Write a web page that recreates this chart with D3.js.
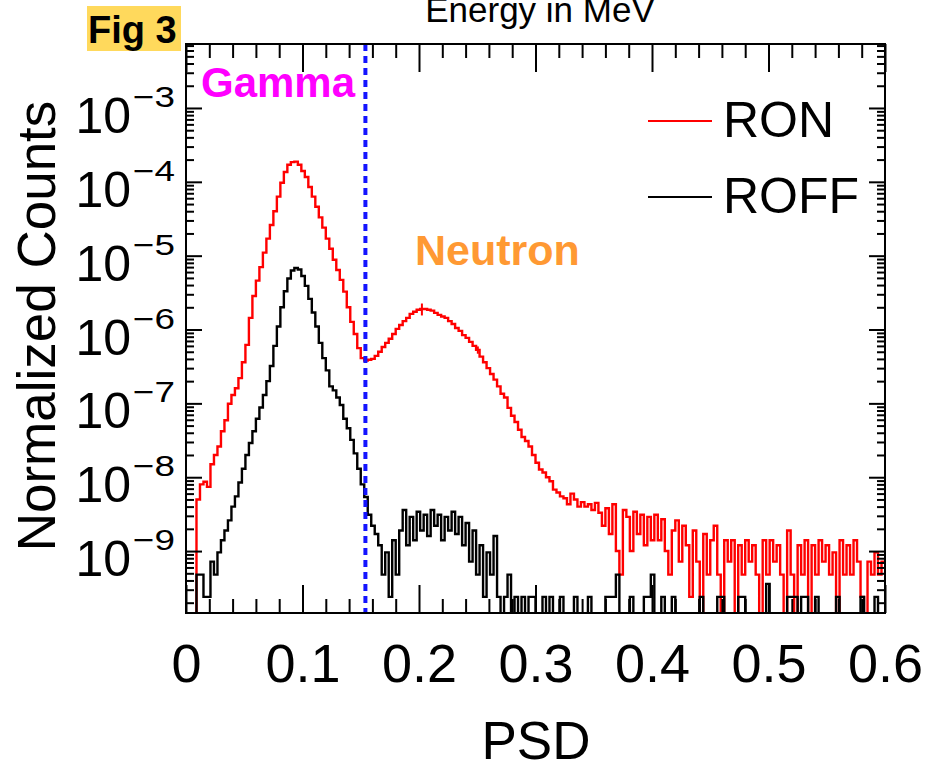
<!DOCTYPE html>
<html>
<head>
<meta charset="utf-8">
<script src="https://cdn.jsdelivr.net/npm/d3@7"></script>
<style>
  body { margin: 0; background: #fff; }
  svg { display: block; font-family: "Liberation Sans", Arial, Helvetica, sans-serif; }
</style>
</head>
<body>
<svg id="chart" width="925" height="771"></svg>
<script>
// Histogram binning along PSD
const binStart = 0;
const binWidth = 0.003;

// Normalized counts per bin, reactor ON
const ron = [
  0, 0, 0, 5.0e-9, 8.0e-9, 8.7e-9, 7.4e-9, 1.5e-8, 2.0e-8, 2.6e-8,
  4.2e-8, 5.9e-8, 9.9e-8, 1.3e-7, 1.6e-7, 2.2e-7, 3.6e-7, 6.2e-7, 1.44e-6, 2.84e-6,
  4.6e-6, 7.0e-6, 1.1e-5, 1.7e-5, 2.6e-5, 4.0e-5, 6.3e-5, 9.7e-5, 1.36e-4, 1.7e-4,
  1.85e-4, 1.88e-4, 1.7e-4, 1.4e-4, 1.16e-4, 8.5e-5, 6.3e-5, 4.6e-5, 3.3e-5, 2.4e-5,
  1.7e-5, 1.24e-5, 8.8e-6, 6.4e-6, 4.7e-6, 3.26e-6, 2.0e-6, 1.27e-6, 8.7e-7, 5.6e-7,
  4.1e-7, 3.8e-7, 3.9e-7, 4.0e-7, 4.4e-7, 5.0e-7, 5.8e-7, 6.6e-7, 7.5e-7, 8.7e-7,
  1.02e-6, 1.15e-6, 1.3e-6, 1.44e-6, 1.63e-6, 1.74e-6, 1.85e-6, 1.9e-6, 1.9e-6, 1.85e-6,
  1.8e-6, 1.68e-6, 1.58e-6, 1.5e-6, 1.44e-6, 1.3e-6, 1.19e-6, 1.05e-6, 9.6e-7, 8.4e-7,
  7.7e-7, 6.8e-7, 6.0e-7, 5.3e-7, 4.3e-7, 3.6e-7, 3.0e-7, 2.5e-7, 2.1e-7, 1.7e-7,
  1.35e-7, 1.2e-7, 8.7e-8, 6.8e-8, 5.6e-8, 4.4e-8, 3.5e-8, 3.1e-8, 2.6e-8, 2.0e-8,
  1.57e-8, 1.27e-8, 1.16e-8, 1.0e-8, 8.8e-9, 6.8e-9, 6.2e-9, 5.5e-9, 5.2e-9, 4.3e-9,
  6.0e-9, 5.0e-9, 4.0e-9, 4.6e-9, 4.0e-9, 4.3e-9, 3.6e-9, 4.5e-9, 3.3e-9, 2.2e-9,
  3.8e-9, 1.7e-9, 4.3e-9, 1.0e-9, 4.8e-10, 3.6e-9, 2.9e-9, 1.0e-9, 3.4e-9, 1.7e-9,
  3.1e-9, 1.2e-9, 2.9e-9, 1.4e-9, 3.1e-9, 1.4e-9, 2.7e-9, 1.0e-9, 4.8e-10, 1.9e-9,
  2.6e-9, 7.2e-10, 2.2e-9, 1.2e-9, 2.4e-10, 1.9e-9, 7.2e-10, 0, 1.7e-9, 4.8e-10,
  1.4e-9, 2.2e-9, 4.8e-10, 0, 1.4e-9, 7.2e-10, 1.4e-9, 0, 1.2e-9, 4.8e-10,
  1.4e-9, 7.2e-10, 1.2e-9, 4.8e-10, 0, 1.4e-9, 4.8e-10, 1.4e-9, 7.2e-10, 1.2e-9,
  4.8e-10, 0, 1.9e-9, 4.8e-10, 0, 1.2e-9, 4.8e-10, 1.4e-9, 0, 1.2e-9,
  4.8e-10, 1.4e-9, 7.2e-10, 1.2e-9, 4.8e-10, 9.6e-10, 0, 1.4e-9, 4.8e-10, 1.2e-9,
  4.8e-10, 1.4e-9, 7.2e-10, 2.4e-10, 0, 7.2e-10, 4.8e-10, 9.6e-10, 4.8e-10, 7.2e-10
];

// Normalized counts per bin, reactor OFF
const roff = [
  0, 0, 0, 4.8e-10, 4.8e-10, 2.4e-10, 2.4e-10, 7.2e-10, 4.8e-10, 9.6e-10,
  1.4e-9, 1.9e-9, 2.6e-9, 4.0e-9, 5.5e-9, 8.5e-9, 1.3e-8, 2.0e-8, 2.9e-8, 4.2e-8,
  6.2e-8, 8.8e-8, 1.3e-7, 2.0e-7, 3.2e-7, 6.0e-7, 1.1e-6, 2.0e-6, 3.3e-6, 4.9e-6,
  6.3e-6, 6.8e-6, 6.5e-6, 5.3e-6, 3.9e-6, 2.6e-6, 1.7e-6, 1.1e-6, 6.6e-7, 4.1e-7,
  2.8e-7, 1.7e-7, 1.5e-7, 1.2e-7, 9.5e-8, 6.2e-8, 4.6e-8, 3.2e-8, 2.1e-8, 1.3e-8,
  8.0e-9, 5.4e-9, 3.1e-9, 2.2e-9, 1.7e-9, 1.2e-9, 4.8e-10, 9.6e-10, 2.4e-10, 1.4e-9,
  4.8e-10, 1.9e-9, 3.6e-9, 1.2e-9, 2.9e-9, 1.4e-9, 3.4e-9, 1.9e-9, 3.1e-9, 1.6e-9,
  3.6e-9, 2.2e-9, 3.1e-9, 1.4e-9, 2.9e-9, 1.9e-9, 3.4e-9, 1.7e-9, 2.9e-9, 1.2e-9,
  2.4e-9, 7.2e-10, 1.9e-9, 4.8e-10, 1.2e-9, 2.4e-10, 9.6e-10, 4.8e-10, 1.6e-9, 2.4e-10,
  0, 2.4e-10, 4.8e-10, 0, 2.4e-10, 0, 2.4e-10, 0, 2.4e-10, 2.4e-10,
  0, 0, 2.4e-10, 0, 2.4e-10, 0, 0, 2.4e-10, 0, 0,
  0, 2.4e-10, 0, 0, 0, 2.4e-10, 0, 0, 0, 0,
  2.4e-10, 2.4e-10, 2.4e-10, 4.8e-10, 0, 0, 0, 2.4e-10, 0, 0,
  0, 2.4e-10, 2.4e-10, 4.8e-10, 0, 0, 2.4e-10, 0, 0, 2.4e-10,
  0, 0, 0, 0, 0, 0, 0, 2.4e-10, 0, 0,
  0, 0, 2.4e-10, 2.4e-10, 0, 0, 0, 0, 2.4e-10, 2.4e-10,
  0, 0, 0, 0, 0, 0, 3.6e-10, 0, 0, 0,
  0, 0, 2.4e-10, 2.4e-10, 2.4e-10, 0, 2.4e-10, 2.4e-10, 0, 0,
  2.4e-10, 0, 0, 0, 0, 0, 2.4e-10, 0, 0, 0,
  0, 0, 0, 2.4e-10, 0, 0, 0, 2.4e-10, 0, 0
];

// Statistical error bars shown on a few RON bins
const ronErrBins = [67, 83];
const ronErrSizes = [3.5e-7, 6.0e-8];

// Axis ticks and labels
const xMajorTicks = [0, 0.1, 0.2, 0.3, 0.4, 0.5, 0.6];
const xTickLabels = ["0", "0.1", "0.2", "0.3", "0.4", "0.5", "0.6"];
const yDecadeExps = [-9, -8, -7, -6, -5, -4, -3];
const xDomain = [0, 0.6];
const yDomain = [1.45e-10, 7.35e-3];
const gammaCut = 0.154;

const seriesNames = ["RON", "ROFF"];
const seriesColors = ["#ff0000", "#000000"];

// ---- layout ----
const frame = { left: 186, right: 885, top: 44, bottom: 613 };
const svg = d3.select("#chart");

const x = d3.scaleLinear().domain(xDomain).range([frame.left, frame.right]);
const y = d3.scaleLog().domain(yDomain).range([frame.bottom, frame.top]);

// clip for the plotted histograms
svg.append("defs").append("clipPath").attr("id", "plotClip")
  .append("rect")
  .attr("x", frame.left).attr("y", frame.top)
  .attr("width", frame.right - frame.left)
  .attr("height", frame.bottom - frame.top);

// "Fig 3" tag
svg.append("rect").attr("x", 87).attr("y", 6).attr("width", 94).attr("height", 45)
  .attr("fill", "#ffd95c");
svg.append("text").attr("x", 88).attr("y", 43)
  .attr("font-size", 38).attr("font-weight", "bold").attr("fill", "#000")
  .text("Fig 3");

// title (partly above the page edge)
svg.append("text").attr("x", 540).attr("y", 22)
  .attr("text-anchor", "middle").attr("font-size", 35).attr("fill", "#000")
  .text("Energy in MeV");

// ---- histograms ----
function stepPoints(values) {
  const floorY = frame.bottom + 2;
  const pts = [];
  values.forEach((v, i) => {
    const lo = binStart + i * binWidth;
    const hi = lo + binWidth;
    const py = v > yDomain[0] ? y(v) : floorY;
    pts.push([x(lo), py], [x(hi), py]);
  });
  return pts;
}
const line = d3.line();
const plot = svg.append("g").attr("clip-path", "url(#plotClip)");

// RON first, ROFF drawn over it
[ron, roff].forEach((vals, idx) => {
  plot.append("path")
    .attr("d", line(stepPoints(vals)))
    .attr("fill", "none")
    .attr("stroke", seriesColors[idx])
    .attr("stroke-width", 2.4)
    .attr("stroke-linejoin", "miter");
});

ronErrBins.forEach((b, j) => {
  const xc = x(binStart + (b + 0.5) * binWidth);
  const v = ron[b];
  plot.append("line")
    .attr("x1", xc).attr("x2", xc)
    .attr("y1", y(v + ronErrSizes[j])).attr("y2", y(v - ronErrSizes[j]))
    .attr("stroke", seriesColors[0]).attr("stroke-width", 2);
});

// gamma / neutron separation
svg.append("line")
  .attr("x1", x(gammaCut)).attr("x2", x(gammaCut))
  .attr("y1", frame.top).attr("y2", frame.bottom)
  .attr("stroke", "#1414ff").attr("stroke-width", 4)
  .attr("stroke-dasharray", "7,5");

// ---- axes ----
const xMinorTicks = d3.range(0, 31).map(i => i * 0.02).filter(v => !xMajorTicks.some(m => Math.abs(m - v) < 1e-9));
const yMinorTicks = [];
for (let e = -10; e <= -3; e++) {
  for (let m = 2; m <= 9; m++) {
    const v = m * Math.pow(10, e);
    if (v >= yDomain[0] && v <= yDomain[1]) yMinorTicks.push(v);
  }
}
const yMajorTicks = yDecadeExps.map(e => Math.pow(10, e));

function styleAxis(g) {
  g.select(".domain").remove();
  g.selectAll(".tick line").attr("stroke", "#000").attr("stroke-width", 2);
}

// bottom
svg.append("g").attr("transform", `translate(0,${frame.bottom})`)
  .call(d3.axisBottom(x).tickValues(xMajorTicks).tickSize(-28).tickPadding(31)
    .tickFormat((d, i) => xTickLabels[i]))
  .call(styleAxis)
  .call(g => g.selectAll(".tick text").attr("font-size", 54).attr("fill", "#000")
    .attr("font-family", "Liberation Sans, Arial, sans-serif"));
svg.append("g").attr("transform", `translate(0,${frame.bottom})`)
  .call(d3.axisBottom(x).tickValues(xMinorTicks).tickSize(-14).tickFormat(""))
  .call(styleAxis);
// top
svg.append("g").attr("transform", `translate(0,${frame.top})`)
  .call(d3.axisTop(x).tickValues(xMajorTicks).tickSize(-28).tickFormat(""))
  .call(styleAxis);
svg.append("g").attr("transform", `translate(0,${frame.top})`)
  .call(d3.axisTop(x).tickValues(xMinorTicks).tickSize(-14).tickFormat(""))
  .call(styleAxis);
// left
svg.append("g").attr("transform", `translate(${frame.left},0)`)
  .call(d3.axisLeft(y).tickValues(yMajorTicks).tickSize(-16).tickFormat(""))
  .call(styleAxis);
svg.append("g").attr("transform", `translate(${frame.left},0)`)
  .call(d3.axisLeft(y).tickValues(yMinorTicks).tickSize(-8).tickFormat(""))
  .call(styleAxis);
// right
svg.append("g").attr("transform", `translate(${frame.right},0)`)
  .call(d3.axisRight(y).tickValues(yMajorTicks).tickSize(-16).tickFormat(""))
  .call(styleAxis);
svg.append("g").attr("transform", `translate(${frame.right},0)`)
  .call(d3.axisRight(y).tickValues(yMinorTicks).tickSize(-8).tickFormat(""))
  .call(styleAxis);

// y tick labels: 10 with superscript exponent
const yLab = svg.append("g").attr("fill", "#000");
yDecadeExps.forEach(e => {
  const py = y(Math.pow(10, e));
  yLab.append("text").attr("x", 131).attr("y", py + 25)
    .attr("text-anchor", "end").attr("font-size", 50).text("10");
  yLab.append("text").attr("x", 133).attr("y", py - 1)
    .attr("font-size", 29).attr("textLength", 42).attr("lengthAdjust", "spacingAndGlyphs")
    .text("\u2212" + Math.abs(e));
});

// frame
svg.append("rect")
  .attr("x", frame.left).attr("y", frame.top)
  .attr("width", frame.right - frame.left).attr("height", frame.bottom - frame.top)
  .attr("fill", "none").attr("stroke", "#000").attr("stroke-width", 2);

// axis titles
svg.append("text").attr("transform", "translate(55,326) rotate(-90)")
  .attr("text-anchor", "middle").attr("font-size", 53).attr("fill", "#000")
  .text("Normalized Counts");
svg.append("text").attr("x", 536).attr("y", 759)
  .attr("text-anchor", "middle").attr("font-size", 53).attr("fill", "#000")
  .text("PSD");

// region labels
svg.append("text").attr("x", 201).attr("y", 97)
  .attr("font-size", 42).attr("font-weight", "bold").attr("fill", "#ff00ff")
  .text("Gamma");
svg.append("text").attr("x", 415).attr("y", 265)
  .attr("font-size", 43).attr("font-weight", "bold").attr("fill", "#ff9933")
  .text("Neutron");

// legend
const legend = svg.append("g");
seriesNames.forEach((name, i) => {
  const ly = 121 + i * 76;
  legend.append("line").attr("x1", 648).attr("x2", 712).attr("y1", ly).attr("y2", ly)
    .attr("stroke", seriesColors[i]).attr("stroke-width", 2);
  legend.append("text").attr("x", 723).attr("y", ly + 16)
    .attr("font-size", 50).attr("fill", "#000").text(name);
});
</script>
</body>
</html>
